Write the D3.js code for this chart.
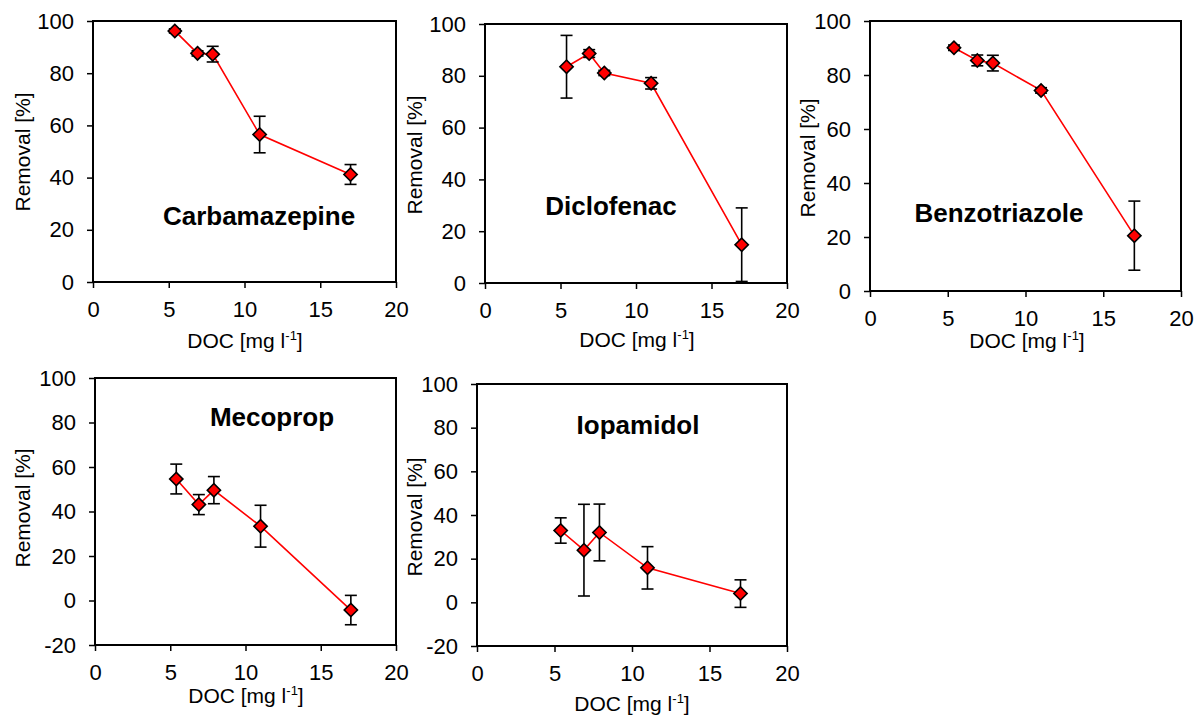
<!DOCTYPE html>
<html>
<head>
<meta charset="utf-8">
<script src="https://cdn.jsdelivr.net/npm/d3@7"></script>
<style>
  body { margin: 0; background: #fff; }
  svg { display: block; }
  text { font-family: "Liberation Sans", Arial, sans-serif; fill: #000; }
</style>
</head>
<body>
<svg id="chart"></svg>
<script>
// DOC concentration [mg/l], same for every compound
var doc = [5.4, 6.9, 7.9, 11, 17];

var compounds = ['Carbamazepine', 'Diclofenac', 'Benzotriazole', 'Mecoprop', 'Iopamidol'];

// removal [%] and standard deviation per compound
var carbamazepine    = [96.2, 87.6, 87.3, 56.5, 41.2];
var carbamazepineErr = [0.8, 1.0, 3.0, 7.0, 3.8];
var diclofenac       = [83.5, 88.6, 81.1, 77.1, 14.8];
var diclofenacErr    = [12.1, 1.5, 1.0, 2.2, 14.2];
var benzotriazole    = [90.1, 85.4, 84.4, 74.3, 20.5];
var benzotriazoleErr = [1.0, 2.0, 2.9, 1.0, 12.8];
var mecoprop         = [54.6, 43.1, 49.6, 33.4, -4.3];
var mecopropErr      = [6.7, 4.5, 6.1, 9.4, 6.6];
var iopamidol        = [32.9, 23.9, 32.0, 15.8, 4.0];
var iopamidolErr     = [5.8, 21.0, 13.0, 9.7, 6.3];

var xTicks = [0, 5, 10, 15, 20];
var yTicksTop = [0, 20, 40, 60, 80, 100];
var yTicksBottom = [-20, 0, 20, 40, 60, 80, 100];

var yLabel = 'Removal [%]';

var width = 1197,
    height = 717;

var svg = d3.select('#chart')
  .attr('width', width)
  .attr('height', height);

// where each panel sits on the page
var layout = [
  { box: [93, 21, 396, 282],   title: [259, 225], yTitle: [23, 152],  xTitle: [245, 348] },
  { box: [485, 24, 787, 283],  title: [611, 215], yTitle: [415, 155], xTitle: [637, 347] },
  { box: [870, 21, 1181, 291], title: [999, 222], yTitle: [808, 158], xTitle: [1027, 348] },
  { box: [95, 378, 396, 645],  title: [272, 426], yTitle: [23, 508],  xTitle: [246, 703] },
  { box: [477, 384, 787, 646], title: [638, 434], yTitle: [415, 517], xTitle: [632, 711] }
];

var series = [
  { y: carbamazepine, err: carbamazepineErr, ticks: yTicksTop },
  { y: diclofenac,    err: diclofenacErr,    ticks: yTicksTop },
  { y: benzotriazole, err: benzotriazoleErr, ticks: yTicksTop },
  { y: mecoprop,      err: mecopropErr,      ticks: yTicksBottom },
  { y: iopamidol,     err: iopamidolErr,     ticks: yTicksBottom }
];

var diamond = d3.symbol().type(d3.symbolSquare).size(88);

// plain hyphen for negatives, like the original
var plain = function (d) { return String(d); };

compounds.forEach(function (name, i) {
  var L = layout[i],
      s = series[i],
      b = L.box;

  var x = d3.scaleLinear().domain([0, 20]).range([b[0], b[2]]);
  var y = d3.scaleLinear().domain(d3.extent(s.ticks)).range([b[3], b[1]]);

  var g = svg.append('g');

  // axes
  var yAxis = g.append('g')
    .attr('transform', 'translate(' + b[0] + ',0)')
    .call(d3.axisLeft(y).tickValues(s.ticks).tickFormat(plain)
      .tickSize(6).tickPadding(13).tickSizeOuter(0));
  var xAxis = g.append('g')
    .attr('transform', 'translate(0,' + b[3] + ')')
    .call(d3.axisBottom(x).tickValues(xTicks).tickFormat(plain)
      .tickSize(6).tickPadding(13).tickSizeOuter(0));

  [yAxis, xAxis].forEach(function (a) {
    a.select('.domain').remove();
    a.selectAll('line').attr('stroke', '#000').attr('stroke-width', 1.5);
    a.selectAll('text')
      .style('font-family', '"Liberation Sans", Arial, sans-serif')
      .style('font-size', '22px')
      .attr('fill', '#000');
  });

  // plot frame
  g.append('rect')
    .attr('x', b[0]).attr('y', b[1])
    .attr('width', b[2] - b[0]).attr('height', b[3] - b[1])
    .attr('fill', 'none')
    .attr('stroke', '#000')
    .attr('stroke-width', 2);

  var pts = doc.map(function (d, j) { return { x: d, y: s.y[j], e: s.err[j] }; });

  // connecting line
  g.append('path')
    .datum(pts)
    .attr('fill', 'none')
    .attr('stroke', '#ff0000')
    .attr('stroke-width', 1.6)
    .attr('d', d3.line().x(function (d) { return x(d.x); }).y(function (d) { return y(d.y); }));

  // error bars
  var eb = g.selectAll('.err').data(pts).enter().append('g')
    .attr('stroke', '#000')
    .attr('stroke-width', 1.6);
  eb.append('line')
    .attr('x1', function (d) { return x(d.x); })
    .attr('x2', function (d) { return x(d.x); })
    .attr('y1', function (d) { return y(d.y + d.e); })
    .attr('y2', function (d) { return y(d.y - d.e); });
  [1, -1].forEach(function (sign) {
    eb.append('line')
      .attr('x1', function (d) { return x(d.x) - 6; })
      .attr('x2', function (d) { return x(d.x) + 6; })
      .attr('y1', function (d) { return y(d.y + sign * d.e); })
      .attr('y2', function (d) { return y(d.y + sign * d.e); });
  });

  // diamond markers
  g.selectAll('.pt').data(pts).enter().append('path')
    .attr('d', diamond)
    .attr('transform', function (d) { return 'translate(' + x(d.x) + ',' + y(d.y) + ') rotate(45)'; })
    .attr('fill', '#ff0000')
    .attr('stroke', '#000')
    .attr('stroke-width', 1.6);

  // compound name
  g.append('text')
    .attr('x', L.title[0]).attr('y', L.title[1])
    .attr('text-anchor', 'middle')
    .style('font-size', '26px')
    .style('font-weight', 'bold')
    .text(name);

  // axis titles
  g.append('text')
    .attr('transform', 'translate(' + L.yTitle[0] + ',' + L.yTitle[1] + ') rotate(-90)')
    .attr('text-anchor', 'middle')
    .attr('dy', '0.35em')
    .style('font-size', '21px')
    .text(yLabel);

  var xt = g.append('text')
    .attr('x', L.xTitle[0]).attr('y', L.xTitle[1])
    .attr('text-anchor', 'middle')
    .style('font-size', '21px');
  xt.append('tspan').text('DOC [mg l');
  xt.append('tspan').attr('dy', '-8').style('font-size', '13px').text('-1');
  xt.append('tspan').attr('dy', '8').text(']');
});
</script>
</body>
</html>
